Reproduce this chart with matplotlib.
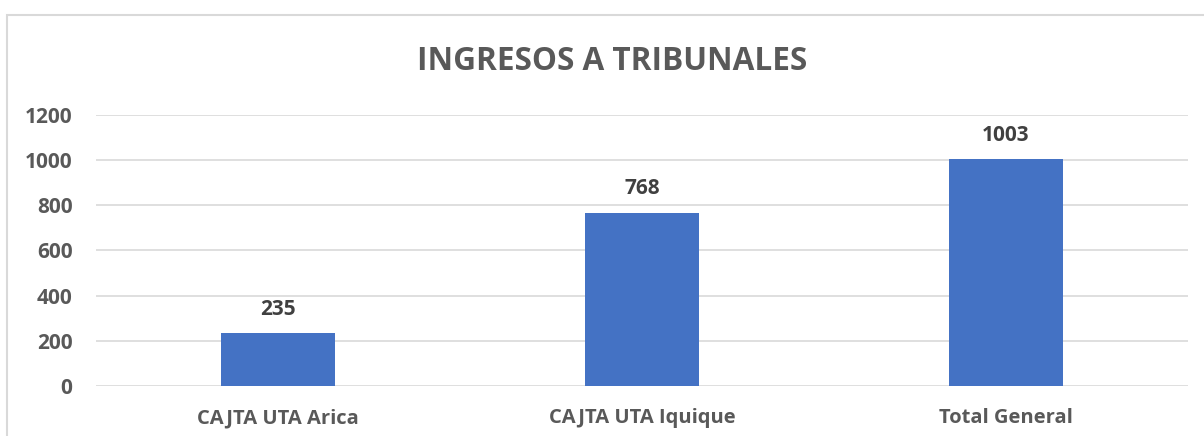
import matplotlib
matplotlib.use("Agg")
import matplotlib.pyplot as plt
from matplotlib.patches import Rectangle

categories = ["CAJTA UTA Arica", "CAJTA UTA Iquique", "Total General"]
values = [235, 768, 1003]
yticks = [0, 200, 400, 600, 800, 1000, 1200]
title = "INGRESOS A TRIBUNALES"

plt.rcParams['font.family'] = ['Open Sans', 'DejaVu Sans']

fig = plt.figure(figsize=(12.04, 4.36), dpi=100)
fig.patch.set_facecolor("white")
top = 1 - 15/436
fig.patches.append(Rectangle((7/1204, -0.2), 1.2, top + 0.2, transform=fig.transFigure,
                             fill=False, edgecolor="#d9d9d9", linewidth=1.5, zorder=0))

ax = fig.add_axes([96/1204, 1 - 386/436, 1092/1204, 271/436])
x = list(range(len(categories)))
ax.bar(x, values, width=0.313, color="#4472c4", zorder=3)
ax.set_xlim(-0.5, 2.5)
ax.set_ylim(0, 1200)
ax.set_yticks(yticks)
ax.set_yticklabels([str(t) for t in yticks])
ax.set_xticks(x)
ax.set_xticklabels(categories)
ax.yaxis.grid(True, color="#d9d9d9", linewidth=1.2, zorder=0)
ax.set_axisbelow(True)
for s in ax.spines.values():
    s.set_visible(False)
ax.tick_params(axis="y", length=0, labelsize=15, labelcolor="#595959", pad=17)
ax.tick_params(axis="x", length=0, labelsize=14.5, labelcolor="#595959", pad=16)
for lab in ax.get_xticklabels() + ax.get_yticklabels():
    lab.set_fontweight("bold")

for xi, v in zip(x, values):
    ax.annotate(str(v), (xi, v), xytext=(0, 17), textcoords="offset points",
                ha="center", va="center", fontsize=15, fontweight="bold", color="#404040")

fig.text(612/1204, 1 - 62/436, title, ha="center", va="center",
         fontsize=22.7, fontweight="bold", color="#595959")

fig.savefig("out.png", dpi=100, facecolor="white")
